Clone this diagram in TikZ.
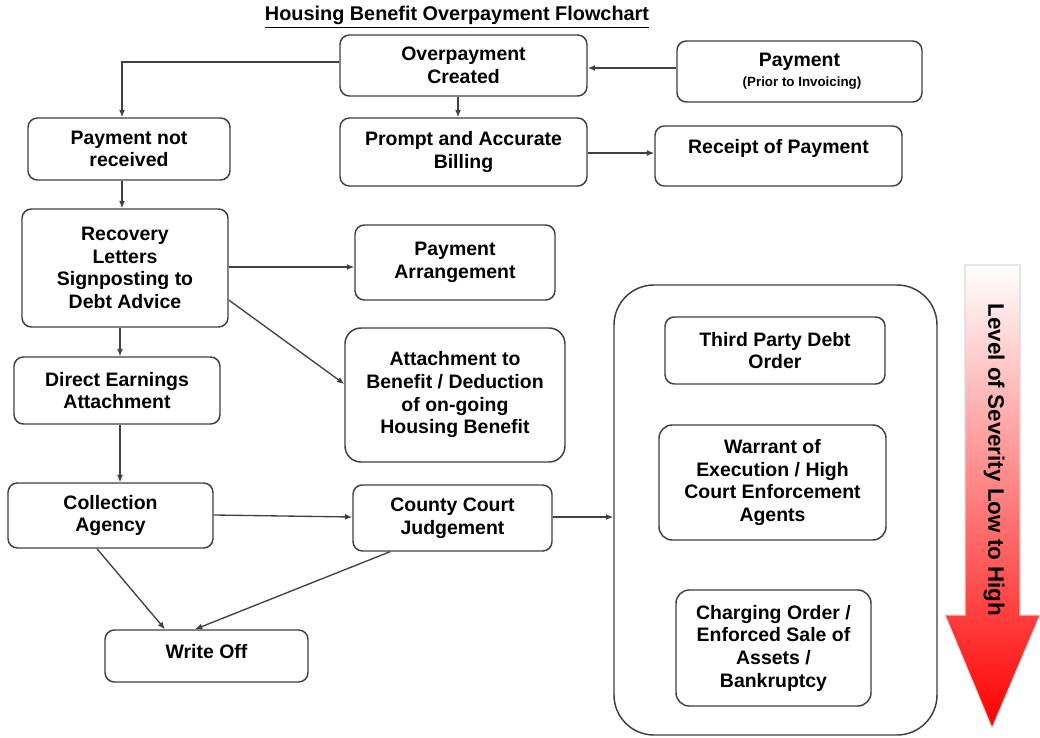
\documentclass[tikz,border=0pt]{standalone}
\usepackage{fontspec}
\setmainfont{Liberation Sans}
\usetikzlibrary{arrows.meta}
\tikzset{
  box/.style={draw=black!75, line width=1.1pt, rounded corners=7pt, fill=white, align=center,
    font=\bfseries\fontsize{14.6}{17}\selectfont, inner sep=2pt},
  txt/.style={align=center, font=\bfseries\fontsize{14.6}{17}\selectfont, inner sep=0pt},
  conn/.style={draw=black!75, line width=1pt, -{Latex[length=5.5pt,width=4.5pt]}}
}
\begin{document}
\begin{tikzpicture}[x=0.75pt,y=-0.75pt]
\useasboundingbox (0,0) rectangle (1040,738);
% title
\node[txt, font=\bfseries\fontsize{14.9}{17}\selectfont] (title) at (457,17) {\underline{Housing Benefit Overpayment Flowchart}};
% boxes
\node[box, minimum width=185.25pt, minimum height=45.75pt] (ov) at (463.5,65.5) {Overpayment\\Created};
\node[box, minimum width=183.75pt, minimum height=45.75pt] (pay) at (799.5,71.5) {};
\node[txt] (paytxt) at (799.5,62) {Payment};
\node[txt, font=\bfseries\fontsize{10}{12}\selectfont] (paysub) at (802,83) {(Prior to Invoicing)};
\node[box, minimum width=151.5pt, minimum height=46.5pt] (pnr) at (129,149) {Payment not\\received};
\node[box, minimum width=185.25pt, minimum height=51pt] (prompt) at (463.5,152) {Prompt and Accurate\\Billing};
\node[box, minimum width=185.25pt, minimum height=45pt] (rec) at (778.5,156) {};
\node[txt] (rectxt) at (778.5,148) {Receipt of Payment};
\node[box, minimum width=154.5pt, minimum height=88.5pt] (recov) at (125,268) {Recovery\\Letters\\Signposting to\\Debt Advice};
\node[box, minimum width=150pt, minimum height=56.25pt] (parr) at (455,262.5) {Payment\\Arrangement};
\node[box, minimum width=165pt, minimum height=100.5pt, rounded corners=12pt] (att) at (455,395) {Attachment to\\Benefit / Deduction\\of on-going\\Housing Benefit};
\node[box, minimum width=154.5pt, minimum height=50.25pt] (dea) at (117,390.5) {Direct Earnings\\Attachment};
\node[box, minimum width=242.25pt, minimum height=337.5pt, rounded corners=30pt] (cont) at (775.5,510) {};
\node[box, minimum width=165pt, minimum height=50.25pt] (tpdo) at (775,350.5) {Third Party Debt\\Order};
\node[box, minimum width=170.25pt, minimum height=86.25pt, rounded corners=10pt] (war) at (772.5,482.5) {Warrant of\\Execution / High\\Court Enforcement\\Agents};
\node[box, minimum width=146.25pt, minimum height=87pt, rounded corners=10pt] (chg) at (773.5,648) {Charging Order /\\Enforced Sale of\\Assets /\\Bankruptcy};
\node[box, minimum width=153.75pt, minimum height=48.75pt] (col) at (110.5,515.5) {Collection\\Agency};
\node[box, minimum width=149.25pt, minimum height=49.5pt] (ccj) at (452.5,518) {County Court\\Judgement};
\node[box, minimum width=152.25pt, minimum height=39pt] (wo) at (206.5,656) {};
\node[txt] (wotxt) at (206.5,652) {Write Off};
% severity arrow
\shade[top color=white, bottom color=red, draw=black!15, line width=0.8pt]
  (965,265) -- (1020,265) -- (1020,615) -- (1040,615) -- (992,728) -- (945,615) -- (965,615) -- cycle;
\node[txt, rotate=-90, font=\bfseries\fontsize{16.8}{19}\selectfont] (sev) at (994,460) {Level of Severity Low to High};
% connectors
\coordinate (c1) at (122,62);
\draw[conn] (ov.west |- c1) -- (c1) -- (pnr.north -| c1);
\draw[conn] (pay.west |- 0,68) -- (ov.east |- 0,68);
\draw[conn] (ov.south -| 458,0) -- (prompt.north -| 458,0);
\draw[conn] (prompt.east |- 0,153) -- (rec.west |- 0,153);
\draw[conn] (pnr.south -| 122,0) -- (recov.north -| 122,0);
\draw[conn] (recov.east |- 0,267) -- (parr.west |- 0,267);
\draw[conn] (recov.east |- 0,300) -- (att.west |- 0,384);
\draw[conn] (recov.south -| 120,0) -- (dea.north -| 120,0);
\draw[conn] (dea.south -| 120,0) -- (col.north -| 120,0);
\draw[conn] (col.east |- 0,515) -- (ccj.west |- 0,517);
\draw[conn] (ccj.east |- 0,517) -- (cont.west |- 0,517);
\draw[conn] (col.south -| 97,0) -- (wo.north -| 165,0);
\draw[conn] (ccj.south -| 390,0) -- (wo.north -| 195,0);
\end{tikzpicture}
\end{document}
